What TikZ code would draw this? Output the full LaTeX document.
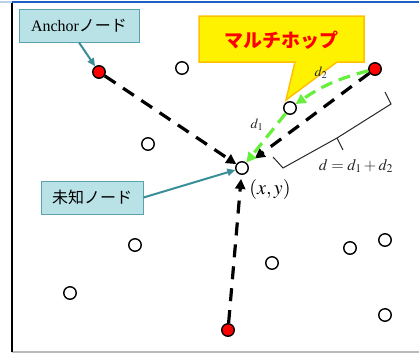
\documentclass[tikz,border=0pt]{standalone}
\usepackage{mathptmx}
\usepackage{fontspec}
\setmainfont{Liberation Serif}
\newfontfamily\jpfont{Noto Sans CJK JP}
\usetikzlibrary{arrows.meta}
\definecolor{labfill}{HTML}{B9E2E6}
\definecolor{labline}{HTML}{5AA3AC}
\definecolor{labarrow}{HTML}{3A8E98}
\definecolor{hopgreen}{HTML}{66F03C}
\definecolor{calloutline}{HTML}{FFC000}
\definecolor{frameblue}{HTML}{1F5FC8}
\definecolor{framegray}{HTML}{BBBBBB}
\begin{document}
\begin{tikzpicture}[x=1pt,y=-1pt,
  opennode/.style={circle,draw,line width=1.4pt,fill=white,minimum size=12.5pt,inner sep=0pt},
  anchornode/.style={opennode,fill=red},
  hopline/.style={line width=3.2pt,dash pattern=on 13pt off 9pt,-{Triangle[length=10pt,width=10pt]}},
  greenline/.style={hopline,hopgreen,dash pattern=on 12pt off 7pt},
  labbox/.style={draw=labline,fill=labfill,line width=1pt,minimum height=33pt,inner sep=0pt},
  pointer/.style={labarrow,line width=2pt,-{Triangle[length=8pt,width=7pt]}}]
\useasboundingbox (0,0) rectangle (419,354);
% frame
\draw[framegray,line width=2pt] (12,352) -- (419,352);
\draw[line width=2pt] (12,2) -- (12,352);
\draw[frameblue!30,line width=2pt] (0,2) -- (12,2);
\draw[frameblue,line width=2pt] (12,2) -- (419,2);
% nodes
\node[opennode] (u) at (242,168) {};
\node[opennode] (h) at (290,108) {};
\node[anchornode] (a1) at (99,72) {};
\node[anchornode] (a2) at (375,69) {};
\node[anchornode] (a3) at (228,330) {};
\foreach \n/\x/\y in {o1/182/68,o2/148/144,o3/135/245,o4/70/293,o5/272/263,o6/350/248,o7/385/240,o8/385/315}{
  \node[opennode] (\n) at (\x,\y) {};
}
% callout
\draw[calloutline,fill=yellow,line width=1.5pt,line join=miter] (199,16) -- (364,16) -- (364,62) -- (337,62) -- (286,100) -- (295,62) -- (199,62) -- cycle;
\node[red,font=\jpfont\bfseries\fontsize{19}{23}\selectfont] (mh) at (281,40) {マルチホップ};
% distances
\draw[hopline] (a1) -- (u);
\draw[hopline,shorten >=9pt] (a2) -- (u);
\draw[hopline,shorten >=4pt] (a3) -- (u);
\draw[greenline] (a2) to[bend right=10] (h);
\draw[greenline] (h) -- (u);
\draw[line width=1pt,black!85] (273,157) -- (283,168) -- (337,138) -- (391,104) -- (385,92);
\draw[line width=1pt,black!85] (337,138) -- (343,150);
\node[black!85,font=\fontsize{16}{19}\selectfont] (dsum) at (356,166) {$d=d_1+d_2$};
\node[black!85,font=\fontsize{14}{17}\selectfont] (d1) at (257,125) {$d_1$};
\node[black!85,font=\fontsize{14}{17}\selectfont] (d2) at (321,73) {$d_2$};
\node[font=\fontsize{20}{24}\selectfont] (xy) at (270,189) {$(x,y)$};
% labels
\node[labbox,minimum width=120pt,font=\fontsize{16}{19}\selectfont] (lab1) at (79,25.5) {Anchor{\jpfont ノード}};
\node[labbox,minimum width=102pt,font=\jpfont\fontsize{16}{19}\selectfont] (lab2) at (92,197.5) {未知ノード};
\draw[pointer] (lab1.south) -- (a1);
\draw[pointer] (lab2.east) -- (u);
\end{tikzpicture}
\end{document}
